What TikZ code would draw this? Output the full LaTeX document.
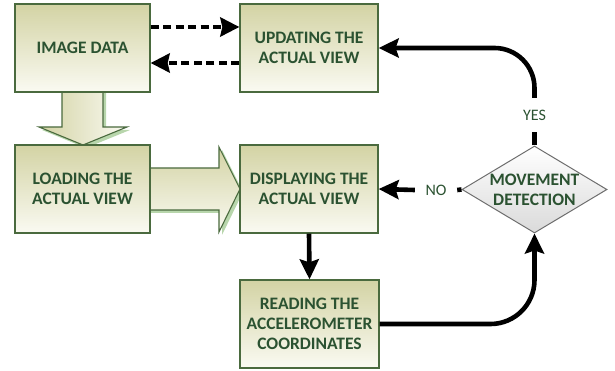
\documentclass[tikz,border=0pt]{standalone}
\usepackage{fontspec}
\setmainfont{Carlito}
\usetikzlibrary{arrows.meta,shapes.geometric}
\definecolor{khaki}{HTML}{D3D3A4}
\definecolor{paleb}{HTML}{FAFAF2}
\definecolor{bord}{HTML}{4A6A3E}
\definecolor{txt}{HTML}{2B5231}
\definecolor{shad}{HTML}{B8D6AC}
\definecolor{dgray}{HTML}{6E6E6E}
\definecolor{lgray}{HTML}{DADADA}
\tikzset{
  box/.style={draw=bord, line width=1.3pt, top color=khaki, bottom color=paleb,
    minimum width=135pt, minimum height=88pt, inner sep=0pt, align=center,
    text=txt, font=\fontsize{17.5}{20}\selectfont\bfseries},
  dia/.style={draw=dgray, line width=1pt, diamond, top color=white, bottom color=lgray,
    minimum width=145pt, minimum height=87pt, inner sep=0pt},
  dtext/.style={align=center, text=txt, font=\fontsize{17.5}{20}\selectfont\bfseries},
  lbl/.style={text=txt, font=\fontsize{16}{18}\selectfont, inner sep=0pt},
  line/.style={line width=4.6pt, draw=black},
  arr/.style={line width=4.6pt, draw=black, -{Stealth[length=20pt,width=19pt,inset=3pt]}},
  dot/.style={line width=4pt, dash pattern=on 8pt off 4.5pt, -{Stealth[length=19pt,width=19pt,inset=2pt]}},
}
\begin{document}
\begin{tikzpicture}[x=1pt,y=-1pt]
\useasboundingbox (0,0) rectangle (615,371);
% block arrows (shadows first)
\fill[shad] (65,92) -- (65,130) -- (42,130) -- (86,148) -- (130,130) -- (106,130) -- (106,92) -- cycle;
\fill[shad] (150,171) -- (222,171) -- (222,150) -- (243,192) -- (222,235) -- (222,213) -- (150,213) -- cycle;
\path[left color=khaki, right color=paleb] (62,92) -- (62,127) -- (39,127) -- (83,145) -- (127,127) -- (103,127) -- (103,92) -- cycle;
\draw[bord, line width=1.1pt] (62,92) -- (62,127) -- (39,127) -- (83,145) -- (127,127) -- (103,127) -- (103,92);
\path[top color=khaki, bottom color=paleb] (150,168) -- (219,168) -- (219,147) -- (240,189) -- (219,232) -- (219,210) -- (150,210) -- cycle;
\draw[bord, line width=1.1pt] (150,168) -- (219,168) -- (219,147) -- (240,189) -- (219,232) -- (219,210) -- (150,210);
% boxes
\node[box] (img) at (82.5,48) {IMAGE DATA};
\node[box, minimum width=138pt] (upd) at (309,48) {UPDATING THE\\ACTUAL VIEW};
\node[box] (load) at (82.5,189) {LOADING THE\\ACTUAL VIEW};
\node[box, minimum width=138pt] (disp) at (309,189) {DISPLAYING THE\\ACTUAL VIEW};
\node[box, minimum width=139pt] (read) at (309.5,324) {READING THE\\ACCELEROMETER\\COORDINATES};
\node[dia] (md) at (534.5,189.5) {};
\node[dtext] (mdt) at (md) {MOVEMENT\\DETECTION};
\node[lbl, minimum height=34pt] (yes) at (534.5,115) {YES};
\node[lbl, minimum width=42pt] (no) at (436,190) {NO};
% connectors
\draw[dot] ([yshift=21pt]img.east) -- ([yshift=21pt]upd.west);
\draw[dot] ([yshift=-15pt]upd.west) -- ([yshift=-15pt]img.east);
\draw[line] (md.north) -- (yes.south);
\draw[arr, rounded corners=40pt] (yes.north) |- (upd.east);
\draw[line] (md.west) -- (no.east);
\draw[arr] (no.west) -- (disp.east);
\draw[arr] (disp.south) -- (read.north);
\draw[arr, rounded corners=44pt] (read.east) -- (md.south |- read.east) -- (md.south);
\end{tikzpicture}
\end{document}
